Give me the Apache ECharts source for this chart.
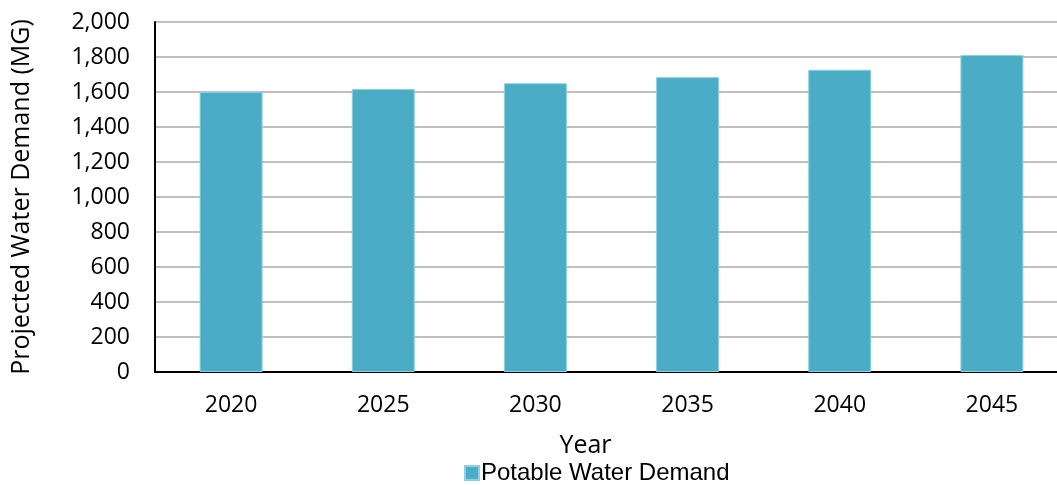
<!DOCTYPE html>
<html>
<head>
<meta charset="utf-8">
<script src="https://cdn.jsdelivr.net/npm/echarts@6/dist/echarts.min.js"></script>
<style>
  html, body { margin: 0; padding: 0; background: #fff; }
  #chart { width: 1057px; height: 485px; }
</style>
</head>
<body>
<div id="chart"></div>
<script>
// Projected potable water demand by planning year (million gallons)
const years = ['2020', '2025', '2030', '2035', '2040', '2045'];
const potableDemand = [1600, 1617, 1650, 1685, 1727, 1811];
const seriesName = 'Potable Water Demand';

const chart = echarts.init(document.getElementById('chart'));
const tickFont = '"Open Sans", "Noto Sans", sans-serif';

chart.setOption({
  animation: false,
  grid: { left: 155, right: -11, top: 22, bottom: 113, containLabel: false, outerBoundsMode: 'none' },
  legend: {
    data: [seriesName],
    left: 459,
    top: 456,
    itemWidth: 14,
    itemHeight: 14,
    itemGap: 4,
    icon: 'rect',
    textStyle: { fontFamily: '"Liberation Sans", Arial, sans-serif', fontSize: 24, color: '#000', padding: [0, 0, 0, -3] }
  },
  xAxis: {
    type: 'category',
    data: years,
    name: 'Year',
    nameLocation: 'middle',
    nameGap: 61,
    nameTextStyle: { fontFamily: tickFont, fontSize: 25, color: '#000', padding: [0, 52, 0, 0] },
    axisLine: { lineStyle: { color: '#000', width: 2 } },
    axisTick: { show: false },
    axisLabel: { fontFamily: tickFont, fontSize: 23, color: '#000', margin: 22 }
  },
  yAxis: {
    type: 'value',
    min: 0,
    max: 2000,
    interval: 200,
    name: 'Projected Water Demand (MG)',
    nameLocation: 'middle',
    nameGap: 121,
    nameTextStyle: { fontFamily: tickFont, fontSize: 25, color: '#000' },
    axisLine: { show: true, lineStyle: { color: '#000', width: 2 } },
    axisTick: { show: false },
    axisLabel: {
      fontFamily: tickFont, fontSize: 23, color: '#000', margin: 25,
      formatter: v => v.toLocaleString('en-US')
    },
    splitLine: { lineStyle: { color: '#BFBFBF', width: 2 } }
  },
  series: [{
    name: seriesName,
    type: 'bar',
    data: potableDemand,
    barWidth: 63,
    itemStyle: { color: '#4BACC6', borderColor: '#8FD0E0', borderWidth: 1 }
  }]
});
</script>
</body>
</html>
